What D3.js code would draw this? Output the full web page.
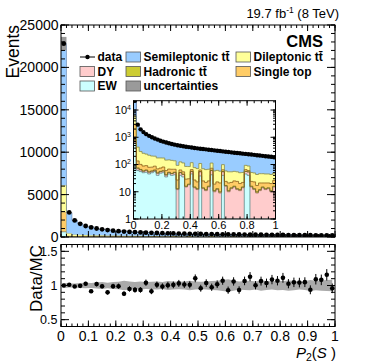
<!DOCTYPE html>
<html><head><meta charset="utf-8">
<script src="https://cdn.jsdelivr.net/npm/d3@7"></script>
<style>body{margin:0;background:#fff}svg{display:block}text{font-family:"Liberation Sans",Arial,Helvetica,sans-serif;fill:#000}</style>
</head><body>
<svg id="c" width="374" height="363"></svg>
<script>
// ---------- data (50 bins of width 0.02 on P2(S) in [0,1]) ----------
const nBins = 50, binW = 0.02;
const dataCounts = [22800,2900,1950,1550,1300,1130,1000,900,820,750,690,640,600,565,535,510,490,470,450,435,420,405,392,380,370,360,350,340,330,320,312,303,295,287,280,272,265,258,251,245,238,232,226,220,214,208,202,197,192,185];
const ewBkg = [600,60,55,50,52,45,50,55,40,48,50,35,45,40,42,0,40,35,0,0,45,0,0,38,0,0,0,42,0,0,0,40,0,0,0,0,0,0,0,45,40,0,0,0,0,0,0,0,0,0];
const dyBkg = [80,10,8,6,8,7,6,5,8,6,7,6,5,6,8,12,10,8,15,18,10,14,12,16,13,11,15,18,10,12,9,14,16,10,13,15,12,11,14,10,13,15,12,9,11,14,12,13,10,15];
const hadronicTT = [30,5,3,2,3,2,2,3,1,2,2,1,2,1,2,1,1,1,1,1,1,1,1,1,1,1,1,1,1,1,1,1,1,1,1,1,1,1,1,1,1,1,1,1,1,1,1,1,1,1];
const singleTop = [2200,60,35,30,28,25,22,24,20,18,22,18,16,20,15,14,12,10,13,11,9,12,10,8,11,10,9,12,8,10,11,9,7,10,8,9,11,8,7,9,6,8,10,7,9,6,8,7,9,10];
const dileptonicTT = [3200,300,200,170,150,140,125,115,105,100,92,85,80,75,70,66,62,60,56,54,52,50,48,46,45,43,42,40,39,38,36,35,34,33,32,31,30,30,29,28,28,27,26,26,25,25,24,24,23,23];
const semileptonicTT = [16690,2436,1679,1300,1027,1016,775,707,737,584,524,582,484,462,435,397,411,351,372,349,299,316,315,267,265,310,271,236,266,238,278,187,258,215,194,215,195,199,180,136,126,175,167,168,158,176,140,137,123,144];
const relUnc = [0.035,0.03,0.03,0.035,0.04,0.035,0.045,0.05,0.04,0.05,0.055,0.07,0.06,0.05,0.06,0.05,0.055,0.06,0.05,0.065,0.06,0.055,0.06,0.07,0.06,0.055,0.06,0.065,0.07,0.08,0.09,0.075,0.06,0.065,0.07,0.06,0.075,0.065,0.06,0.07,0.065,0.075,0.07,0.06,0.065,0.08,0.07,0.075,0.08,0.085];
const mainYTicks = [0,5000,10000,15000,20000,25000];
const ratioYTicks = [0.5,1,1.5];
const xTickLabels = [0,0.1,0.2,0.3,0.4,0.5,0.6,0.7,0.8,0.9,1];
const insetXTicks = [0,0.2,0.4,0.6,0.8,1];
const insetYTicks = [1,10,100,1000,10000];

const layers = [
  {key:"ew", vals:ewBkg, fill:"#ccffff", stroke:"#5a8a8a"},
  {key:"dy", vals:dyBkg, fill:"#ffcccc", stroke:"#9a6a6a"},
  {key:"had", vals:hadronicTT, fill:"#cccc33", stroke:"#6a6a10"},
  {key:"st", vals:singleTop, fill:"#ffcc66", stroke:"#8a5a10"},
  {key:"dil", vals:dileptonicTT, fill:"#ffff99", stroke:"#8a8a40"},
  {key:"semi", vals:semileptonicTT, fill:"#99ccff", stroke:"#4a6a9a"}
];
const rows = d3.range(nBins).map(i => {
  const r = {x0: i*binW, data: dataCounts[i], unc: relUnc[i]};
  layers.forEach(l => r[l.key] = l.vals[i]);
  return r;
});
const series = d3.stack().keys(layers.map(l=>l.key))(rows);
rows.forEach((r,i) => { r.total = series[series.length-1][i][1]; r.ratio = r.data / r.total; });

const svg = d3.select("#c");

// ---------- scales ----------
const X = {l:61, r:335};
const x = d3.scaleLinear().domain([0,1]).range([X.l, X.r]);
const M = {t:25, b:237};
const y = d3.scaleLinear().domain([0,25000]).range([M.b, M.t]);
const R = {t:244.5, b:326.5};
const yr = d3.scaleLinear().domain([0.4,1.6]).range([R.b, R.t]);
const I = {l:133.5, r:275.5, t:100.7, b:219};
const xi = d3.scaleLinear().domain([0,1]).range([I.l, I.r]);
const yi = d3.scaleLog().domain([1,22000]).range([I.b, I.t]).clamp(true);

function stepPts(s){
  const pts = s.map((d,i)=>({x:i*binW, y0:d[0], y1:d[1]}));
  const last = s[s.length-1];
  pts.push({x:1, y0:last[0], y1:last[1]});
  return pts;
}

const defs = svg.append("defs");
defs.append("clipPath").attr("id","cm").append("rect").attr("x",X.l).attr("y",M.t).attr("width",X.r-X.l).attr("height",M.b-M.t);
defs.append("clipPath").attr("id","ci").append("rect").attr("x",I.l).attr("y",I.t).attr("width",I.r-I.l).attr("height",I.b-I.t);
defs.append("clipPath").attr("id","cr").append("rect").attr("x",X.l).attr("y",R.t).attr("width",X.r-X.l).attr("height",R.b-R.t);

// ---------- main plot ----------
const gm = svg.append("g").attr("clip-path","url(#cm)");
series.forEach((s,k) => {
  const L = layers[k];
  const pts = stepPts(s);
  gm.append("path").attr("d", d3.area().x(d=>x(d.x)).y0(d=>y(d.y0)).y1(d=>y(d.y1)).curve(d3.curveStepAfter)(pts))
    .attr("fill", L.fill).attr("stroke","none");
  gm.append("path").attr("d", d3.line().x(d=>x(d.x)).y(d=>y(d.y1)).curve(d3.curveStepAfter)(pts))
    .attr("fill","none").attr("stroke", L.stroke).attr("stroke-width",0.5);
});
gm.selectAll("rect.unc").data(rows).join("rect").attr("class","unc")
  .attr("x", d=>x(d.x0)).attr("width", d=>x(d.x0+binW)-x(d.x0))
  .attr("y", d=>y(d.total*(1+d.unc))).attr("height", d=>y(d.total*(1-d.unc))-y(d.total*(1+d.unc)))
  .attr("fill","#9a9a9a");
gm.selectAll("line.err").data(rows).join("line").attr("class","err")
  .attr("x1", d=>x(d.x0+binW/2)).attr("x2", d=>x(d.x0+binW/2))
  .attr("y1", d=>y(d.data+Math.sqrt(d.data))).attr("y2", d=>y(d.data-Math.sqrt(d.data)))
  .attr("stroke","#000").attr("stroke-width",1);
gm.selectAll("circle").data(rows).join("circle")
  .attr("cx", d=>x(d.x0+binW/2)).attr("cy", d=>y(d.data)).attr("r",2.4).attr("fill","#000");

// ---------- inset ----------
svg.append("rect").attr("x",I.l).attr("y",I.t).attr("width",I.r-I.l).attr("height",I.b-I.t).attr("fill","#fff");
const gi = svg.append("g").attr("clip-path","url(#ci)");
series.forEach((s,k) => {
  const L = layers[k];
  const pts = stepPts(s);
  gi.append("path").attr("d", d3.area().x(d=>xi(d.x)).y0(d=>yi(Math.max(d.y0,1))).y1(d=>yi(Math.max(d.y1,1))).curve(d3.curveStepAfter)(pts))
    .attr("fill", L.fill).attr("stroke","none");
});
series.forEach((s,k) => {
  const L = layers[k];
  const pts = stepPts(s);
  gi.append("path").attr("d", d3.line().x(d=>xi(d.x)).y(d=>yi(Math.max(d.y1,1))).curve(d3.curveStepAfter)(pts))
    .attr("fill","none").attr("stroke", L.stroke).attr("stroke-width",0.8);
});
gi.selectAll("circle").data(rows).join("circle")
  .attr("cx", d=>xi(d.x0+binW/2)).attr("cy", d=>yi(d.data)).attr("r",2.2).attr("fill","#000");

// ---------- ratio ----------
const gr = svg.append("g").attr("clip-path","url(#cr)");
gr.append("path").attr("d", d3.area().x(d=>x(d.x0+binW/2)).y0(d=>yr(1-d.unc)).y1(d=>yr(1+d.unc))(rows))
  .attr("fill","#aaaaaa");
gr.selectAll("line.err").data(rows).join("line").attr("class","err")
  .attr("x1", d=>x(d.x0+binW/2)).attr("x2", d=>x(d.x0+binW/2))
  .attr("y1", d=>yr(d.ratio*(1+1/Math.sqrt(d.data)))).attr("y2", d=>yr(d.ratio*(1-1/Math.sqrt(d.data))))
  .attr("stroke","#000").attr("stroke-width",1);
gr.selectAll("circle").data(rows).join("circle")
  .attr("cx", d=>x(d.x0+binW/2)).attr("cy", d=>yr(d.ratio)).attr("r",2.3).attr("fill","#000");

// ---------- frames & ticks ----------
function frame(l,r,t,b){
  svg.append("rect").attr("x",l).attr("y",t).attr("width",r-l).attr("height",b-t).attr("fill","none").attr("stroke","#000").attr("stroke-width",1);
}
function vTicks(vals, sx, t, b, len){
  vals.forEach(v => {
    const px = sx(v);
    svg.append("line").attr("x1",px).attr("x2",px).attr("y1",b).attr("y2",b-len).attr("stroke","#000");
    svg.append("line").attr("x1",px).attr("x2",px).attr("y1",t).attr("y2",t+len).attr("stroke","#000");
  });
}
function hTicks(vals, sy, l, r, len){
  vals.forEach(v => {
    const py = sy(v);
    svg.append("line").attr("x1",l).attr("x2",l+len).attr("y1",py).attr("y2",py).attr("stroke","#000");
    svg.append("line").attr("x1",r).attr("x2",r-len).attr("y1",py).attr("y2",py).attr("stroke","#000");
  });
}
frame(X.l,X.r,M.t,M.b);
frame(X.l,X.r,R.t,R.b);
frame(I.l,I.r,I.t,I.b);
const xMinor = x.ticks(50), xMajor = x.ticks(10);
vTicks(xMinor, x, M.t, M.b, 3); vTicks(xMajor, x, M.t, M.b, 6);
vTicks(xMinor, x, R.t, R.b, 3); vTicks(xMajor, x, R.t, R.b, 6);
hTicks(y.ticks(25), y, X.l, X.r, 4); hTicks(mainYTicks, y, X.l, X.r, 8);
hTicks(yr.ticks(12), yr, X.l, X.r, 4); hTicks(ratioYTicks, yr, X.l, X.r, 8);
vTicks(xi.ticks(25), xi, I.t, I.b, 2.5); vTicks(insetXTicks, xi, I.t, I.b, 5);
hTicks(yi.ticks().filter(v=>v<=22000), yi, I.l, I.r, 2.5); hTicks(insetYTicks, yi, I.l, I.r, 5);

// labels
svg.selectAll("text.my").data(mainYTicks).join("text").attr("class","my")
  .attr("x",58.5).attr("y",d=>y(d)).attr("dy","0.36em").attr("text-anchor","end").attr("font-size",14).text(d=>d);
svg.selectAll("text.ry").data(ratioYTicks).join("text").attr("class","ry")
  .attr("x",57.5).attr("y",d=>yr(d)).attr("dy","0.36em").attr("text-anchor","end").attr("font-size",12.5).text(d=>d);
svg.selectAll("text.rx").data(xTickLabels).join("text").attr("class","rx")
  .attr("x",d=>x(d)).attr("y",340.5).attr("text-anchor","middle").attr("font-size",14).text(d=>d3.format("~g")(d));
svg.selectAll("text.ix").data(insetXTicks).join("text").attr("class","ix")
  .attr("x",d=>xi(d)).attr("y",228.5).attr("text-anchor","middle").attr("font-size",11).text(d=>d3.format("~g")(d));
insetYTicks.forEach(v => {
  const t = svg.append("text").attr("x",131).attr("y",yi(v)).attr("dy","0.36em").attr("text-anchor","end").attr("font-size",11);
  const e = Math.round(Math.log10(v));
  if (e === 0) t.text("1");
  else if (e === 1) t.text("10");
  else { t.append("tspan").text("10"); t.append("tspan").attr("font-size",7).attr("dy","-0.6em").text(e); }
});

// titles
svg.append("text").attr("transform","translate(19,25) rotate(-90)").attr("text-anchor","end").attr("font-size",17.5).text("Events");
svg.append("text").attr("transform","translate(42,245) rotate(-90)").attr("text-anchor","end").attr("font-size",17).text("Data/MC");
const px = svg.append("text").attr("x",336).attr("y",357.5).attr("text-anchor","end").attr("font-size",15);
px.append("tspan").attr("font-style","italic").text("P");
px.append("tspan").attr("font-size",10.5).attr("dy","3").text("2");
px.append("tspan").attr("dy","-3").text("(");
px.append("tspan").attr("font-style","italic").text("S");
px.append("tspan").text(" )");
const lum = svg.append("text").attr("x",339).attr("y",18).attr("text-anchor","end").attr("font-size",13);
lum.append("tspan").text("19.7 fb");
lum.append("tspan").attr("font-size",8.5).attr("dy","-5").text("-1");
lum.append("tspan").attr("dy","5").text(" (8 TeV)");
svg.append("text").attr("x",323).attr("y",47).attr("text-anchor","end").attr("font-size",16.5).attr("font-weight","bold").text("CMS");

// legend
const legend = [
  {label:"data", type:"data", col:0, row:0},
  {label:"Semileptonic t\u0074\u0304", fill:"#99ccff", col:1, row:0},
  {label:"Dileptonic t\u0074\u0304", fill:"#ffff99", col:2, row:0},
  {label:"DY", fill:"#ffcccc", col:0, row:1},
  {label:"Hadronic t\u0074\u0304", fill:"#cccc33", col:1, row:1},
  {label:"Single top", fill:"#ffcc66", col:2, row:1},
  {label:"EW", fill:"#ccffff", col:0, row:2},
  {label:"uncertainties", fill:"#9a9a9a", col:1, row:2}
];
const colX = [80,126,236], rowY = [57,71.5,86];
legend.forEach(e => {
  const bx = colX[e.col], cy = rowY[e.row];
  if (e.type === "data") {
    svg.append("line").attr("x1",bx).attr("x2",bx+15).attr("y1",cy).attr("y2",cy).attr("stroke","#000");
    svg.append("circle").attr("cx",bx+7.5).attr("cy",cy).attr("r",2.2).attr("fill","#000");
  } else {
    svg.append("rect").attr("x",bx).attr("y",cy-5).attr("width",14.5).attr("height",10).attr("fill",e.fill).attr("stroke","#555").attr("stroke-width",0.8);
  }
  svg.append("text").attr("x",bx+17.5).attr("y",cy).attr("dy","0.36em").attr("font-size",12).attr("font-weight","bold").text(e.label);
});
</script>
</body></html>
